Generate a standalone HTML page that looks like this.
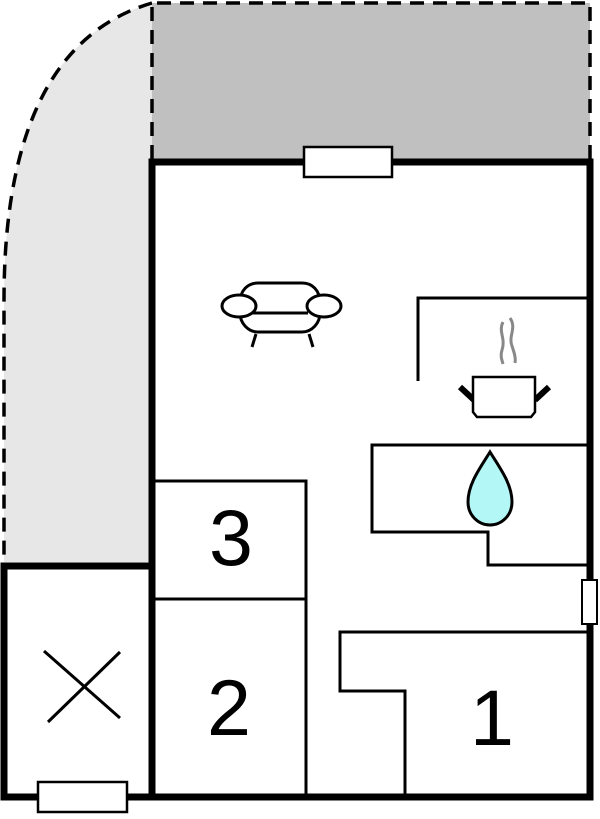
<!DOCTYPE html>
<html><head><meta charset="utf-8"><style>
html,body{margin:0;padding:0;background:#fff;}
svg{display:block;}
text{font-family:"Liberation Sans",sans-serif;}
</style></head><body>
<svg width="600" height="819" viewBox="0 0 600 819" xmlns="http://www.w3.org/2000/svg">
<path d="M152,3 C60,30 4,120 4,300 L4,562 L152,562 Z" fill="#e7e7e7"/>
<path d="M152,3 C60,30 4,120 4,300 L4,562" fill="none" stroke="#000" stroke-width="3.5" stroke-dasharray="14,9"/>
<rect x="152" y="3" width="438" height="156" fill="#c0c0c0"/>
<path d="M152,159 L152,3 L590,3 L590,159" fill="none" stroke="#000" stroke-width="3.5" stroke-dasharray="14,9"/>
<rect x="152" y="162" width="438" height="635" fill="#fff" stroke="#000" stroke-width="7"/>
<rect x="4" y="566" width="148" height="231" fill="#fff" stroke="#000" stroke-width="7"/>
<path d="M154,481 L306,481 L306,797 M154,599 L306,599" fill="none" stroke="#000" stroke-width="3"/>
<path d="M418,381 L418,298 L588,298" fill="none" stroke="#000" stroke-width="3"/>
<path d="M588,445 L372,445 L372,532 L488,532 L488,565 L588,565" fill="none" stroke="#000" stroke-width="3"/>
<path d="M588,632 L340,632 L340,691 L405,691 L405,797" fill="none" stroke="#000" stroke-width="3"/>
<rect x="304" y="147" width="88" height="30" fill="#fff" stroke="#000" stroke-width="2.5"/>
<rect x="38" y="782" width="89" height="30" fill="#fff" stroke="#000" stroke-width="2.5"/>
<rect x="582" y="580" width="15" height="44" fill="#fff" stroke="#000" stroke-width="2"/>
<path d="M44,651 L120,718 M48,722 L120,652" stroke="#000" stroke-width="3"/>
<g fill="none" stroke="#000" stroke-width="3">
<path d="M240,303 C240,290 248,283 258,283 L302,283 C312,283 320,290 320,303"/>
<path d="M240,313 C240,323 248,332 258,332 L302,332 C312,332 320,323 320,313"/>
<line x1="252" y1="313" x2="308" y2="313"/>
<ellipse cx="239" cy="306" rx="17" ry="11" fill="#fff"/>
<ellipse cx="324" cy="306" rx="17" ry="11" fill="#fff"/>
<line x1="256" y1="334" x2="252" y2="347"/>
<line x1="309" y1="334" x2="313" y2="347"/>
</g>
<g>
<path d="M503,322 C498,332 506,338 502,350 C500,356 502,360 503,364" fill="none" stroke="#888" stroke-width="3"/>
<path d="M510,318 C517,328 508,336 512,346 C514,352 516,358 515,363" fill="none" stroke="#888" stroke-width="3"/>
<line x1="460" y1="387" x2="474" y2="400" stroke="#000" stroke-width="6"/>
<line x1="549" y1="387" x2="535" y2="400" stroke="#000" stroke-width="6"/>
<path d="M473,377 L535,377 L535,412 L531,417 L477,417 L473,412 Z" fill="#fff" stroke="#000" stroke-width="2.5"/>
</g>
<path d="M490,452 C480,468 468,484 468,502 C468,515 478,525 490,525 C502,525 512,515 512,502 C512,484 500,468 490,452 Z" fill="#b3f7f7" stroke="#000" stroke-width="3"/>
<text x="231" y="565" font-size="79" text-anchor="middle">3</text>
<text x="229" y="735" font-size="79" text-anchor="middle">2</text>
<text x="492" y="745" font-size="79" text-anchor="middle">1</text>
</svg>
</body></html>
